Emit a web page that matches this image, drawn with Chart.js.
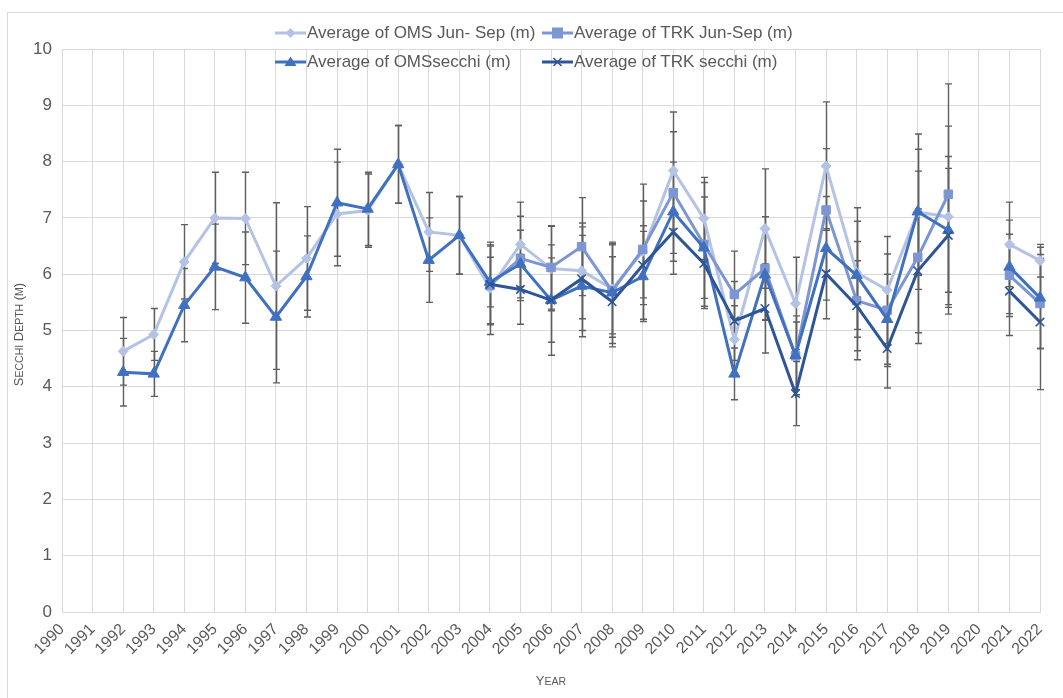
<!DOCTYPE html>
<html>
<head>
<meta charset="utf-8">
<script src="https://cdn.jsdelivr.net/npm/chart.js@4"></script>
<style>
  html, body { margin: 0; padding: 0; background: #ffffff; }
  #wrap { position: relative; width: 1063px; height: 698px; }
  #legend { position: absolute; left: 0; top: 0; width: 1063px; height: 80px; pointer-events: none;
            font-family: "Liberation Sans", Arial, sans-serif; font-size: 17px; color: #595959; }
  .li { position: absolute; display: flex; align-items: center; height: 20px; white-space: nowrap; }
  .li svg { display: block; margin-right: 1px; }
</style>
</head>
<body>
<div id="wrap">
  <canvas id="c" width="1063" height="698"></canvas>
  <div id="legend"></div>
</div>
<script>
// ---- data ----
const years = ['1990','1991','1992','1993','1994','1995','1996','1997','1998','1999','2000','2001','2002','2003','2004','2005','2006','2007','2008','2009','2010','2011','2012','2013','2014','2015','2016','2017','2018','2019','2020','2021','2022'];

const omsJunSep = [null,null,4.63,4.93,6.22,7.00,6.99,5.79,6.28,7.07,7.13,7.95,6.75,6.69,5.75,6.53,6.10,6.06,5.74,6.40,7.84,6.99,4.84,6.81,5.48,7.92,6.03,5.72,7.10,7.02,null,6.53,6.24];
const omsJunSepErr = [null,null,0.60,0.46,0.66,0.81,0.82,1.48,0.92,0.92,0.65,0.69,0.70,0.69,0.82,0.75,0.75,0.85,0.80,1.20,1.04,0.73,0.60,1.06,0.82,1.14,1.15,0.95,1.12,1.61,null,0.75,0.29];

const trkJunSep = [null,null,null,null,null,null,null,null,null,null,null,null,null,null,5.80,6.28,6.12,6.49,5.70,6.44,7.45,6.53,5.64,6.10,4.55,7.14,5.53,5.36,6.30,7.42,null,5.98,5.48];
const trkJunSepErr = [null,null,null,null,null,null,null,null,null,null,null,null,null,null,0.70,0.75,0.74,0.87,0.82,0.86,1.08,1.10,0.77,0.92,0.60,1.09,1.05,1.00,1.53,1.96,null,0.73,0.80];

const omsSecchi = [null,null,4.26,4.23,5.45,6.13,5.94,5.24,5.96,7.27,7.16,7.95,6.25,6.69,5.86,6.18,5.54,5.79,5.67,5.96,7.11,6.47,4.23,5.99,4.56,6.46,5.98,5.20,7.11,6.78,null,6.13,5.58];
const omsSecchiErr = [null,null,0.60,0.40,0.65,0.76,0.81,1.17,0.72,0.95,0.65,0.69,0.75,0.69,0.44,0.60,0.98,0.90,0.90,0.80,0.88,0.90,0.46,0.80,0.70,0.92,0.96,0.80,1.38,1.10,null,0.83,0.90];

const trkSecchi = [null,null,null,null,null,null,null,null,null,null,null,null,null,null,5.82,5.73,5.54,5.92,5.51,6.16,6.75,6.19,5.17,5.39,3.88,6.01,5.44,4.68,6.06,6.69,null,5.70,5.15];
const trkSecchiErr = [null,null,null,null,null,null,null,null,null,null,null,null,null,null,0.70,0.62,0.75,0.92,0.80,0.70,0.75,0.80,0.70,0.79,0.57,0.80,0.80,0.70,1.10,1.40,null,0.79,1.20];

const seriesNames = ['Average of OMS Jun- Sep (m)','Average of TRK Jun-Sep (m)','Average of OMSsecchi (m)','Average of TRK secchi (m)'];
const yTicks = [0,1,2,3,4,5,6,7,8,9,10];

const colors = ['#B4C3E5','#7C95D3','#4070C0','#2E5597'];
const FONT = '"Liberation Sans", Arial, sans-serif';
const TEXT = '#595959';
const GRID = '#d9d9d9';

// ---- plugins ----
const errorBars = {
  id: 'errorBars',
  beforeDatasetsDraw(chart) {
    const ctx = chart.ctx, x = chart.scales.x, y = chart.scales.y;
    ctx.save();
    ctx.strokeStyle = '#5f5f5f';
    ctx.lineWidth = 1.4;
    chart.data.datasets.forEach(ds => {
      ds.data.forEach((v, i) => {
        const e = ds.err[i];
        if (v == null || e == null) return;
        const px = Math.round(x.getPixelForValue(i)) + 0.5;
        const pt = y.getPixelForValue(v + e), pb = y.getPixelForValue(v - e);
        ctx.beginPath();
        ctx.moveTo(px, pt); ctx.lineTo(px, pb);
        ctx.moveTo(px - 3.5, pt); ctx.lineTo(px + 3.5, pt);
        ctx.moveTo(px - 3.5, pb); ctx.lineTo(px + 3.5, pb);
        ctx.stroke();
      });
    });
    ctx.restore();
  }
};

function smallCapsParts(text, big, small) {
  return [...text].map(ch => {
    const lower = ch !== ch.toUpperCase();
    return { ch: ch.toUpperCase(), size: lower ? small : big };
  });
}
function drawSmallCaps(ctx, text, cx, cy, big, small, rotate) {
  const parts = smallCapsParts(text, big, small);
  let total = 0;
  parts.forEach(p => { ctx.font = p.size + 'px ' + FONT; p.w = ctx.measureText(p.ch).width; total += p.w; });
  ctx.save();
  ctx.translate(cx, cy);
  if (rotate) ctx.rotate(-Math.PI / 2);
  ctx.fillStyle = TEXT;
  ctx.textBaseline = 'alphabetic';
  ctx.textAlign = 'left';
  let xx = -total / 2;
  parts.forEach(p => { ctx.font = p.size + 'px ' + FONT; ctx.fillText(p.ch, xx, big * 0.36); xx += p.w; });
  ctx.restore();
}

const decor = {
  id: 'decor',
  beforeDraw(chart) {
    const ctx = chart.ctx;
    ctx.save();
    ctx.strokeStyle = GRID;
    ctx.lineWidth = 1;
    ctx.strokeRect(7.5, 12.5, 1200, 1000);
    ctx.restore();
  },
  afterDraw(chart) {
    const ctx = chart.ctx, a = chart.chartArea;
    drawSmallCaps(ctx, 'Secchi Depth (m)', 18, (a.top + a.bottom) / 2 + 4, 13, 10.5, true);
    drawSmallCaps(ctx, 'Year', (a.left + a.right) / 2, 680, 13, 10.5, false);
  }
};

// ---- chart ----
const styles = [
  { pointStyle: 'rectRot', pointRadius: 5, borderWidth: 3 },
  { pointStyle: 'rect', pointRadius: 6, borderWidth: 3 },
  { pointStyle: 'triangle', pointRadius: 6.5, borderWidth: 3 },
  { pointStyle: 'crossRot', pointRadius: 6, borderWidth: 3 }
];
const values = [omsJunSep, trkJunSep, omsSecchi, trkSecchi];
const errs = [omsJunSepErr, trkJunSepErr, omsSecchiErr, trkSecchiErr];

const datasets = values.map((d, k) => ({
  label: seriesNames[k],
  data: d,
  err: errs[k],
  borderColor: colors[k],
  backgroundColor: colors[k],
  pointBackgroundColor: colors[k],
  pointBorderColor: colors[k],
  pointBorderWidth: k === 3 ? 1.6 : 1,
  borderWidth: styles[k].borderWidth,
  pointStyle: styles[k].pointStyle,
  pointRadius: styles[k].pointRadius,
  tension: 0,
  spanGaps: false,
  order: 4 - k
}));

new Chart(document.getElementById('c'), {
  type: 'line',
  data: { labels: years, datasets },
  plugins: [errorBars, decor],
  options: {
    responsive: false,
    animation: false,
    events: [],
    layout: { padding: { left: 0, top: 49, right: 23, bottom: 0 } },
    plugins: { legend: { display: false }, tooltip: { enabled: false } },
    scales: {
      x: {
        type: 'category',
        offset: false,
        grid: { color: GRID, lineWidth: 1, drawTicks: false },
        border: { color: GRID, width: 1 },
        ticks: { color: TEXT, font: { family: FONT, size: 16 }, minRotation: 45, maxRotation: 45, autoSkip: false, padding: 8 },
        afterFit(s) { s.height = 86; }
      },
      y: {
        min: 0, max: 10,
        afterBuildTicks(s) { s.ticks = yTicks.map(v => ({ value: v })); },
        grid: { color: GRID, lineWidth: 1, drawTicks: false },
        border: { display: false },
        ticks: { color: TEXT, font: { family: FONT, size: 17 }, padding: 10 },
        afterFit(s) { s.width = 62; }
      }
    }
  }
});

// ---- HTML legend ----
function markerSvg(k) {
  const c = colors[k];
  let m = '';
  if (k === 0) m = `<polygon points="15.5,2 20.5,7 15.5,12 10.5,7" fill="${c}"/>`;
  if (k === 1) m = `<rect x="10" y="1.5" width="11" height="11" fill="${c}"/>`;
  if (k === 2) m = `<polygon points="15.5,1.5 21.5,11 9.5,11" fill="${c}"/>`;
  if (k === 3) m = `<path d="M11.5,3 L19.5,11 M19.5,3 L11.5,11" stroke="${c}" stroke-width="1.6"/>`;
  return `<svg width="31" height="14" viewBox="0 0 31 14"><line x1="0" y1="7" x2="31" y2="7" stroke="${c}" stroke-width="3"/>${m}</svg>`;
}
const legendPos = [[275, 33], [542, 33], [275, 62], [542, 62]];
const lg = document.getElementById('legend');
seriesNames.forEach((name, k) => {
  const d = document.createElement('div');
  d.className = 'li';
  d.style.left = legendPos[k][0] + 'px';
  d.style.top = (legendPos[k][1] - 10) + 'px';
  d.innerHTML = markerSvg(k) + '<span>' + name + '</span>';
  lg.appendChild(d);
});
</script>
</body>
</html>
